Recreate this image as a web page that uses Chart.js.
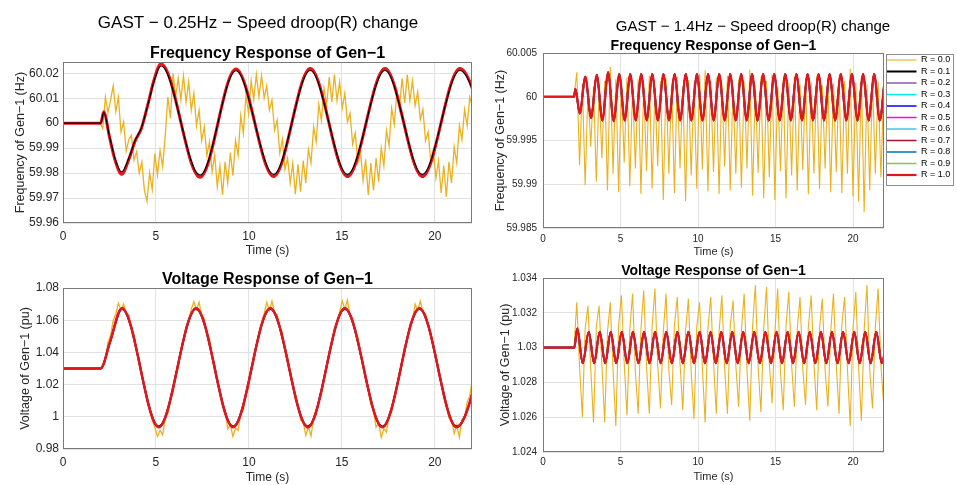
<!DOCTYPE html>
<html>
<head>
<meta charset="utf-8">
<title>GAST speed droop change</title>
<script src="https://cdn.jsdelivr.net/npm/chart.js@4.4.1/dist/chart.umd.min.js"></script>
<style>
  html, body { margin: 0; padding: 0; background: #fff; }
  body { position: relative; width: 957px; height: 485px; overflow: hidden; }
  canvas { position: absolute; }
</style>
</head>
<body>
<canvas id="freqLow" width="480" height="258" style="left:0;top:0"></canvas>
<canvas id="voltLow" width="480" height="235" style="left:0;top:250px"></canvas>
<canvas id="freqHigh" width="477" height="259" style="left:480px;top:0"></canvas>
<canvas id="voltHigh" width="477" height="234" style="left:480px;top:250px"></canvas>
<script>
// legend entries, one per speed droop value
const seriesLabels = ['R = 0.0', 'R = 0.1', 'R = 0.2', 'R = 0.3', 'R = 0.4', 'R = 0.5',
                      'R = 0.6', 'R = 0.7', 'R = 0.8', 'R = 0.9', 'R = 1.0'];
const seriesColors = ['#EDB120', '#000000', '#8E5AA8', '#00F0F0', '#0000FF', '#FF00FF',
                      '#4DBEEE', '#A2142F', '#0072BD', '#8DC05A', '#E3161B'];

// ---- 0.25 Hz case : frequency (smooth curves, peaks / troughs) ----
const timeFreqLow = [0, 2.03, 2.19, 2.5, 2.8, 3.15, 3.59, 3.86, 4.22, 4.58, 4.89, 5.27, 7.37, 9.3, 11.33, 13.3, 15.3, 17.32, 19.33, 21.35, 23.35];
const freqLowR10 = [60, 60, 60.0046, 59.9945, 59.9852, 59.9795, 59.9865, 59.9925, 59.998, 60.0079, 60.0172, 60.0238, 59.9783, 60.0217, 59.9786, 60.0219, 59.9786, 60.0219, 59.9786, 60.0219, 59.9786];
const freqLowR01 = [60, 60, 60.0043, 59.9948, 59.9858, 59.9805, 59.987, 59.9928, 59.9982, 60.0077, 60.0166, 60.0229, 59.9792, 60.021, 59.9795, 60.0211, 59.9795, 60.0211, 59.9795, 60.0211, 59.9795];
// R = 0.0, read every 0.14 s from t = 2 s
const freqLowR00 = [
  60.0000, 59.9978, 60.0105, 60.0042, 60.0092, 60.0150, 60.0046, 60.0103, 59.9965, 60.0005,
  59.9888, 59.9935, 59.9952, 59.9852, 59.9886, 59.9800, 59.9845, 59.9730, 59.9688, 59.9802,
  59.9734, 59.9878, 59.9792, 59.9891, 59.9826, 59.9950, 60.0105, 60.0020, 60.0199, 60.0105,
  60.0180, 60.0092, 60.0190, 60.0085, 60.0165, 60.0052, 60.0120, 59.9990, 60.0052, 59.9930,
  59.9985, 59.9870, 59.9925, 59.9805, 59.9872, 59.9745, 59.9830, 59.9712, 59.9845, 59.9760,
  59.9882, 59.9790, 59.9930, 59.9870, 60.0030, 59.9960, 60.0110, 60.0040, 60.0170, 60.0095,
  60.0195, 60.0105, 60.0190, 60.0100, 60.0150, 60.0052, 60.0092, 59.9972, 60.0012, 59.9880,
  59.9935, 59.9815, 59.9860, 59.9760, 59.9840, 59.9715, 59.9835, 59.9725, 59.9850, 59.9760,
  59.9895, 59.9840, 59.9985, 59.9925, 60.0075, 60.0010, 60.0140, 60.0072, 60.0185, 60.0085,
  60.0195, 60.0090, 60.0165, 60.0060, 60.0120, 60.0005, 60.0040, 59.9915, 59.9960, 59.9840,
  59.9890, 59.9770, 59.9855, 59.9712, 59.9840, 59.9730, 59.9860, 59.9765, 59.9900, 59.9830,
  59.9970, 59.9910, 60.0060, 59.9995, 60.0130, 60.0060, 60.0180, 60.0080, 60.0195, 60.0090,
  60.0170, 60.0070, 60.0125, 60.0015, 60.0055, 59.9930, 59.9965, 59.9850, 59.9895, 59.9780,
  59.9850, 59.9720, 59.9830, 59.9705, 59.9845, 59.9760, 59.9905, 59.9840, 59.9990, 59.9935,
  60.0055, 59.9990, 60.0105, 60.0065
];

// ---- 0.25 Hz case : voltage ----
const timeVoltLow = [0, 2.03, 2.52, 3.17, 5.15, 7.16, 9.15, 11.15, 13.17, 15.16, 17.18, 19.17, 21.17, 23.17];
const voltLowR10 = [1.03, 1.03, 1.0462, 1.0675, 0.9935, 1.0675, 0.9935, 1.0675, 0.9935, 1.0675, 0.9935, 1.0675, 0.9935, 1.0675];
const voltLowR01 = [1.03, 1.03, 1.046, 1.067, 0.994, 1.067, 0.994, 1.067, 0.994, 1.067, 0.994, 1.067, 0.994, 1.067];
const voltLowR00 = [
  1.0300, 1.0325, 1.0360, 1.0462, 1.0505, 1.0598, 1.0640, 1.0705, 1.0662, 1.0700,
  1.0640, 1.0632, 1.0545, 1.0512, 1.0408, 1.0360, 1.0250, 1.0198, 1.0098, 1.0060,
  0.9975, 0.9935, 0.9878, 0.9915, 0.9888, 0.9998, 1.0018, 1.0108, 1.0148, 1.0258,
  1.0308, 1.0420, 1.0465, 1.0562, 1.0588, 1.0670, 1.0715, 1.0665, 1.0712, 1.0628,
  1.0610, 1.0522, 1.0484, 1.0376, 1.0328, 1.0215, 1.0170, 1.0068, 1.0040, 0.9925,
  0.9950, 0.9878, 0.9930, 0.9915, 1.0018, 1.0040, 1.0138, 1.0180, 1.0292, 1.0342,
  1.0452, 1.0494, 1.0588, 1.0640, 1.0710, 1.0660, 1.0718, 1.0648, 1.0635, 1.0556,
  1.0524, 1.0420, 1.0372, 1.0260, 1.0212, 1.0105, 1.0072, 0.9980, 0.9968, 0.9885,
  0.9940, 0.9880, 0.9990, 1.0010, 1.0098, 1.0138, 1.0246, 1.0296, 1.0406, 1.0452,
  1.0552, 1.0578, 1.0650, 1.0720, 1.0668, 1.0725, 1.0628, 1.0616, 1.0530, 1.0494,
  1.0388, 1.0338, 1.0226, 1.0178, 1.0078, 1.0046, 0.9935, 0.9960, 0.9872, 0.9925,
  0.9905, 1.0010, 1.0032, 1.0128, 1.0170, 1.0280, 1.0330, 1.0440, 1.0482, 1.0578,
  1.0600, 1.0700, 1.0660, 1.0718, 1.0650, 1.0640, 1.0565, 1.0532, 1.0432, 1.0384,
  1.0272, 1.0222, 1.0118, 1.0080, 0.9994, 0.9982, 0.9895, 0.9948, 0.9872, 0.9985,
  1.0000, 1.0090, 1.0128, 1.0235
];
const lowStart = 2.0, lowStep = 0.14;

// ---- 1.4 Hz case : frequency ----
const timeFreqHigh = [0, 2.0, 2.09, 2.37,
  2.73, 3.1, 3.47, 3.83, 4.2, 4.56, 4.92, 5.27, 5.63, 5.98, 6.34, 6.69, 7.05, 7.41, 7.77, 8.13,
  8.49, 8.85, 9.21, 9.57, 9.93, 10.29, 10.65, 11.01, 11.37, 11.72, 12.08, 12.43, 12.79, 13.14,
  13.49, 13.84, 14.2, 14.56, 14.92, 15.27, 15.63, 15.99, 16.35, 16.71, 17.07, 17.42, 17.78,
  18.13, 18.49, 18.85, 19.21, 19.57, 19.93, 20.29, 20.65, 21.01, 21.37, 21.72, 22.08];
const freqHighR10 = [60, 60, 60.0009, 59.9981,
  60.0023, 59.9976, 60.0025, 59.9973, 60.0028, 59.9972, 60.0026, 59.9973, 60.0026, 59.9973,
  60.0026, 59.9973, 60.0026, 59.9973, 60.0026, 59.9973, 60.0026, 59.9973, 60.0026, 59.9973,
  60.0026, 59.9973, 60.0026, 59.9973, 60.0026, 59.9973, 60.0026, 59.9973, 60.0026, 59.9973,
  60.0026, 59.9973, 60.0026, 59.9973, 60.0026, 59.9973, 60.0026, 59.9973, 60.0026, 59.9973,
  60.0026, 59.9973, 60.0026, 59.9973, 60.0026, 59.9973, 60.0026, 59.9973, 60.0026, 59.9973,
  60.0026, 59.9973, 60.0026, 59.9973, 60.0026];
const freqHighR00 = [
  60.0000, 60.0028, 59.9922, 60.0015, 59.9899, 60.0008, 59.9943, 60.0012, 59.9903, 60.0010,
  59.9930, 60.0018, 59.9893, 60.0034, 59.9912, 60.0020, 59.9891, 60.0016, 59.9925, 60.0022,
  59.9898, 60.0012, 59.9918, 60.0020, 59.9889, 60.0014, 59.9915, 60.0024, 59.9895, 60.0010,
  59.9921, 60.0018, 59.9882, 60.0021, 59.9912, 60.0016, 59.9890, 60.0023, 59.9918, 60.0012,
  59.9881, 60.0019, 59.9910, 60.0015, 59.9895, 60.0026, 59.9917, 60.0030, 59.9892, 60.0018,
  59.9914, 60.0022, 59.9889, 60.0015, 59.9920, 60.0024, 59.9893, 60.0013, 59.9912, 60.0020,
  59.9896, 60.0017, 59.9918, 60.0031, 59.9887, 60.0014, 59.9913, 60.0022, 59.9884, 60.0018,
  59.9908, 60.0025, 59.9882, 60.0012, 59.9915, 60.0020, 59.9884, 60.0016, 59.9910, 60.0023,
  59.9893, 60.0014, 59.9916, 60.0021, 59.9889, 60.0017, 59.9912, 60.0024, 59.9895, 60.0013,
  59.9918, 60.0020, 59.9891, 60.0015, 59.9914, 60.0022, 59.9890, 60.0018, 59.9912, 60.0032,
  59.9886, 60.0016, 59.9880, 60.0021, 59.9868, 60.0014, 59.9893, 60.0024, 59.9912, 60.0017,
  59.9908, 60.0010, 59.9925
];

// ---- 1.4 Hz case : voltage ----
const timeVoltHigh = [0, 2.02,
  2.21, 2.56, 2.95, 3.3, 3.66, 4.01, 4.37, 4.72, 5.08, 5.44, 5.8, 6.16, 6.52, 6.87, 7.23, 7.59,
  7.95, 8.31, 8.67, 9.02, 9.38, 9.74, 10.1, 10.45, 10.81, 11.15, 11.5, 11.85, 12.21, 12.56,
  12.92, 13.27, 13.63, 13.99, 14.35, 14.71, 15.07, 15.42, 15.78, 16.13, 16.49, 16.85, 17.21,
  17.57, 17.93, 18.28, 18.64, 19.0, 19.36, 19.72, 20.08, 20.43, 20.79, 21.14, 21.5, 21.86, 22.22];
const voltHighR10 = [1.03, 1.03,
  1.0311, 1.0291, 1.0309, 1.0291, 1.0309, 1.0291, 1.0309, 1.0291, 1.0309, 1.0291,
  1.0309, 1.0291, 1.0309, 1.0291, 1.0309, 1.0291, 1.0309, 1.0291, 1.0309, 1.0291,
  1.0309, 1.0291, 1.0309, 1.0291, 1.0309, 1.0291, 1.0309, 1.0291, 1.0309, 1.0291,
  1.0309, 1.0291, 1.0309, 1.0291, 1.0309, 1.0291, 1.0309, 1.0291, 1.0309, 1.0291,
  1.0309, 1.0291, 1.0309, 1.0291, 1.0309, 1.0291, 1.0309, 1.0291, 1.0309, 1.0291,
  1.0309, 1.0291, 1.0309, 1.0291, 1.0309, 1.0291, 1.0309];
const voltHighR00 = [
  1.0300, 1.0326, 1.0289, 1.0260, 1.0311, 1.0324, 1.0288, 1.0257, 1.0312, 1.0324,
  1.0290, 1.0257, 1.0309, 1.0326, 1.0287, 1.0255, 1.0313, 1.0330, 1.0291, 1.0261,
  1.0310, 1.0331, 1.0286, 1.0262, 1.0311, 1.0333, 1.0289, 1.0262, 1.0312, 1.0334,
  1.0290, 1.0265, 1.0309, 1.0331, 1.0287, 1.0267, 1.0313, 1.0329, 1.0291, 1.0264,
  1.0310, 1.0328, 1.0286, 1.0259, 1.0312, 1.0326, 1.0289, 1.0257, 1.0311, 1.0329,
  1.0292, 1.0262, 1.0309, 1.0330, 1.0288, 1.0262, 1.0313, 1.0327, 1.0290, 1.0266,
  1.0310, 1.0331, 1.0287, 1.0258, 1.0312, 1.0336, 1.0289, 1.0263, 1.0311, 1.0335,
  1.0291, 1.0268, 1.0309, 1.0334, 1.0286, 1.0264, 1.0313, 1.0332, 1.0290, 1.0266,
  1.0310, 1.0329, 1.0288, 1.0267, 1.0312, 1.0330, 1.0291, 1.0264, 1.0311, 1.0328,
  1.0287, 1.0266, 1.0309, 1.0331, 1.0290, 1.0262, 1.0313, 1.0329, 1.0288, 1.0255,
  1.0311, 1.0332, 1.0289, 1.0258, 1.0310, 1.0336, 1.0287, 1.0265, 1.0312, 1.0334,
  1.0290, 1.0267, 1.0305
];
const highStart = 2.0, highStep = 0.18;

Chart.defaults.font.family = '"Liberation Sans", Arial, Helvetica, sans-serif';
Chart.defaults.color = '#262626';

// figure-level heading, placed where the reference has it
const figTitle = {
  id: 'figTitle',
  afterDraw(chart, args, opts) {
    if (!opts || !opts.text) return;
    const ctx = chart.ctx;
    ctx.save();
    ctx.font = opts.size + 'px "Liberation Sans", Arial, sans-serif';
    ctx.fillStyle = '#000';
    ctx.textAlign = 'center';
    ctx.textBaseline = 'middle';
    ctx.fillText(opts.text, opts.x, opts.y);
    ctx.restore();
  }
};

// matlab style box round the axes (and the legend)
const axesBox = {
  id: 'axesBox',
  afterDraw(chart) {
    const ctx = chart.ctx, a = chart.chartArea;
    ctx.save();
    ctx.strokeStyle = '#7a7a7a';
    ctx.lineWidth = 1;
    ctx.strokeRect(Math.round(a.left) + 0.5, Math.round(a.top) + 0.5,
                   Math.round(a.right - a.left) - 1, Math.round(a.bottom - a.top) - 1);
    const lg = chart.legend;
    if (lg && lg.options.display && lg.columnSizes) {
      const h = lg.columnSizes[0].height + lg.options.labels.padding;
      ctx.strokeStyle = '#8a8a8a';
      ctx.strokeRect(Math.round(lg.left) + 2.5, Math.round(lg.top) + 1.5, Math.round(lg.width) - 3, Math.round(h) + 2);
    }
    ctx.restore();
  }
};

function toPoints(times, values) {
  return times.map((t, i) => ({x: t, y: values[i]}));
}
function sampledPoints(values, t0, dt) {
  const pts = [{x: 0, y: values[0]}];
  values.forEach((v, i) => pts.push({x: t0 + i * dt, y: v}));
  return pts;
}

function makeDatasets(r00, r01, rest, w) {
  return seriesLabels.map((label, i) => {
    const smooth = i > 0;
    let order = 10 - i;
    if (i === 1 && w.blackTop) order = -1;
    return {
      label: label,
      data: i === 0 ? r00 : (i === 1 ? r01 : rest),
      borderColor: seriesColors[i],
      backgroundColor: seriesColors[i],
      borderWidth: i === 0 ? w.yellow : i === 1 ? w.black : i === 10 ? w.red : w.mid,
      pointRadius: 0,
      pointStyle: 'line',
      tension: smooth ? 0.4 : 0,
      cubicInterpolationMode: smooth ? 'monotone' : 'default',
      order: order
    };
  });
}

const gridColor = '#e2e2e2';

function drawPanel(id, p) {
  new Chart(document.getElementById(id), {
    type: 'line',
    data: { datasets: p.datasets },
    options: {
      responsive: false,
      animation: false,
      devicePixelRatio: 1,
      events: [],
      layout: { padding: p.pad },
      plugins: {
        title: {
          display: true, text: p.title, fullSize: false, color: '#000', padding: 0,
          font: { size: p.titleSize, weight: 'bold', lineHeight: 1 }
        },
        legend: p.legend || { display: false },
        tooltip: { enabled: false },
        figTitle: p.fig || {}
      },
      scales: {
        x: {
          type: 'linear', min: 0, max: 22,
          afterFit: s => { s.height = p.xh; },
          ticks: { stepSize: 5, includeBounds: false, padding: p.xpad, maxRotation: 0,
                   font: { size: p.tick }, color: '#262626' },
          grid: { color: gridColor, drawTicks: false },
          border: { display: false },
          title: { display: true, text: 'Time (s)', padding: 0, color: '#262626',
                   font: { size: p.xTitle } }
        },
        y: {
          type: 'linear', min: p.ymin, max: p.ymax,
          afterFit: s => { s.width = p.yw; },
          ticks: { stepSize: p.step, includeBounds: false, padding: p.ypad,
                   font: { size: p.tick }, color: '#262626',
                   callback: v => String(+v.toFixed(4)) },
          grid: { color: gridColor, drawTicks: false },
          border: { display: false },
          title: { display: true, text: p.ylabel, color: '#262626',
                   padding: { top: 4, bottom: 4 }, font: { size: 12.5 } }
        }
      }
    },
    plugins: [figTitle, axesBox]
  });
}

drawPanel('freqLow', {
  datasets: makeDatasets(sampledPoints(freqLowR00, lowStart, lowStep),
                         toPoints(timeFreqLow, freqLowR01), toPoints(timeFreqLow, freqLowR10),
                         { yellow: 1.3, black: 1.2, mid: 1.5, red: 3, blackTop: true }),
  pad: { left: 9, right: 8, top: 46, bottom: 0 },
  title: 'Frequency Response of Gen−1', titleSize: 16,
  fig: { text: 'GAST − 0.25Hz − Speed droop(R) change', x: 258, y: 23, size: 17 },
  ymin: 59.96, ymax: 60.0245, step: 0.01, ylabel: 'Frequency of Gen−1 (Hz)',
  yw: 54, xh: 35, tick: 12, xTitle: 12, xpad: 6, ypad: 4
});

drawPanel('voltLow', {
  datasets: makeDatasets(sampledPoints(voltLowR00, lowStart, lowStep),
                         toPoints(timeVoltLow, voltLowR01), toPoints(timeVoltLow, voltLowR10),
                         { yellow: 1.3, black: 2, mid: 1.5, red: 2.5, blackTop: false }),
  pad: { left: 14, right: 8, top: 22, bottom: 0 },
  title: 'Voltage Response of Gen−1', titleSize: 16,
  ymin: 0.98, ymax: 1.08, step: 0.02, ylabel: 'Voltage of Gen−1 (pu)',
  yw: 49, xh: 36, tick: 12, xTitle: 12, xpad: 6, ypad: 4
});

drawPanel('freqHigh', {
  datasets: makeDatasets(sampledPoints(freqHighR00, highStart, highStep),
                         toPoints(timeFreqHigh, freqHighR10), toPoints(timeFreqHigh, freqHighR10),
                         { yellow: 1.1, black: 2, mid: 1.5, red: 2.2, blackTop: false }),
  pad: { left: 9, right: 3, top: 39, bottom: 0 },
  title: 'Frequency Response of Gen−1', titleSize: 14,
  fig: { text: 'GAST − 1.4Hz − Speed droop(R) change', x: 273, y: 27, size: 15 },
  legend: {
    display: true, position: 'right', align: 'start', fullSize: false, maxWidth: 70,
    labels: {
      usePointStyle: true, pointStyleWidth: 30, boxHeight: 9, padding: 2.5,
      color: '#000', font: { size: 9 },
      sort: (a, b) => a.datasetIndex - b.datasetIndex
    }
  },
  ymin: 59.985, ymax: 60.005, step: 0.005, ylabel: 'Frequency of Gen−1 (Hz)',
  yw: 54, xh: 31, tick: 10, xTitle: 11, xpad: 5, ypad: 6
});

drawPanel('voltHigh', {
  datasets: makeDatasets(sampledPoints(voltHighR00, highStart, highStep),
                         toPoints(timeVoltHigh, voltHighR10), toPoints(timeVoltHigh, voltHighR10),
                         { yellow: 1.1, black: 2, mid: 1.5, red: 2.2, blackTop: false }),
  pad: { left: 14, right: 73, top: 14, bottom: 0 },
  title: 'Voltage Response of Gen−1', titleSize: 14,
  ymin: 1.024, ymax: 1.034, step: 0.002, ylabel: 'Voltage of Gen−1 (pu)',
  yw: 49, xh: 32, tick: 10, xTitle: 11, xpad: 4, ypad: 6
});
</script>
</body>
</html>
